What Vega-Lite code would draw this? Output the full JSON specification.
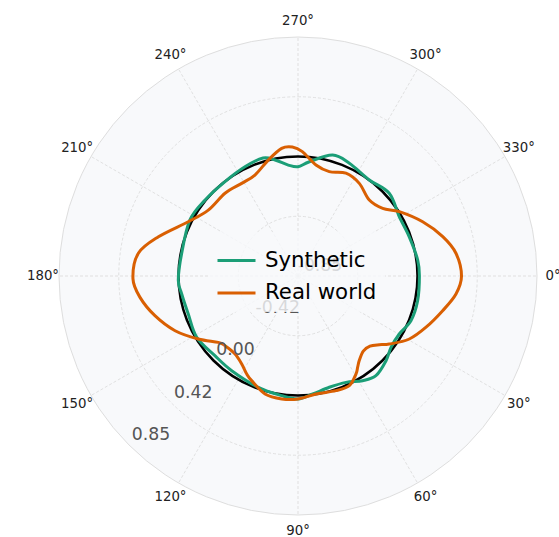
{
  "$schema": "https://vega.github.io/schema/vega-lite/v6.json",
  "width": 478,
  "height": 478,
  "autosize": {"type": "none"},
  "padding": {"left": 59, "top": 37, "right": 22, "bottom": 22},
  "background": "white",
  "config": {"view": {"stroke": null}, "font": "DejaVu Sans"},
  "datasets": {
    "disk": [{"r": 0.85, "r0": -0.85}],
    "rings": [{"r": -0.425, "r0": -0.85}, {"r": 0, "r0": -0.85}, {"r": 0.425, "r0": -0.85}],
    "reference": [{"r": 0, "r0": -0.85}],
    "spokes": [{"angle": 0}, {"angle": 30}, {"angle": 60}, {"angle": 90}, {"angle": 120}, {"angle": 150}, {"angle": 180}, {"angle": 210}, {"angle": 240}, {"angle": 270}, {"angle": 300}, {"angle": 330}],
    "anglelabels": [
      {"angle": 0, "label": "0°"}, {"angle": 30, "label": "30°"}, {"angle": 60, "label": "60°"},
      {"angle": 90, "label": "90°"}, {"angle": 120, "label": "120°"}, {"angle": 150, "label": "150°"},
      {"angle": 180, "label": "180°"}, {"angle": 210, "label": "210°"}, {"angle": 240, "label": "240°"},
      {"angle": 270, "label": "270°"}, {"angle": 300, "label": "300°"}, {"angle": 330, "label": "330°"}
    ],
    "radlabels": [
      {"angle": 135, "r": -0.85, "label": "-0.85"},
      {"angle": 135, "r": -0.425, "label": "-0.42"},
      {"angle": 135, "r": 0, "label": "0.00"},
      {"angle": 135, "r": 0.425, "label": "0.42"},
      {"angle": 135, "r": 0.85, "label": "0.85"}
    ],
    "curves": [
      {"series": "Synthetic", "angle": 0, "r": 0.0135},
      {"series": "Synthetic", "angle": 11.7, "r": 0.019},
      {"series": "Synthetic", "angle": 21.6, "r": 0.014},
      {"series": "Synthetic", "angle": 29.8, "r": -0.02},
      {"series": "Synthetic", "angle": 37.5, "r": -0.016},
      {"series": "Synthetic", "angle": 43.9, "r": 0.019},
      {"series": "Synthetic", "angle": 52, "r": 0.05},
      {"series": "Synthetic", "angle": 58.3, "r": 0.025},
      {"series": "Synthetic", "angle": 65.7, "r": -0.02},
      {"series": "Synthetic", "angle": 74.3, "r": -0.028},
      {"series": "Synthetic", "angle": 82.9, "r": -0.004},
      {"series": "Synthetic", "angle": 90, "r": 0.025},
      {"series": "Synthetic", "angle": 97.8, "r": 0.009},
      {"series": "Synthetic", "angle": 109.6, "r": -0.009},
      {"series": "Synthetic", "angle": 125, "r": -0.028},
      {"series": "Synthetic", "angle": 136.2, "r": -0.031},
      {"series": "Synthetic", "angle": 148.8, "r": -0.008},
      {"series": "Synthetic", "angle": 160.9, "r": -0.024},
      {"series": "Synthetic", "angle": 171.2, "r": -0.013},
      {"series": "Synthetic", "angle": 178, "r": 0.002},
      {"series": "Synthetic", "angle": 191, "r": -0.007},
      {"series": "Synthetic", "angle": 207.4, "r": 0.016},
      {"series": "Synthetic", "angle": 219.3, "r": 0.004},
      {"series": "Synthetic", "angle": 232.3, "r": -0.001},
      {"series": "Synthetic", "angle": 244.1, "r": 0.014},
      {"series": "Synthetic", "angle": 253.5, "r": 0.025},
      {"series": "Synthetic", "angle": 258.8, "r": -0.009},
      {"series": "Synthetic", "angle": 265, "r": -0.058},
      {"series": "Synthetic", "angle": 270, "r": -0.073},
      {"series": "Synthetic", "angle": 275.7, "r": -0.033},
      {"series": "Synthetic", "angle": 286, "r": 0.045},
      {"series": "Synthetic", "angle": 294.5, "r": 0.031},
      {"series": "Synthetic", "angle": 306.6, "r": 0.001},
      {"series": "Synthetic", "angle": 317.8, "r": 0.026},
      {"series": "Synthetic", "angle": 329.7, "r": -0.015},
      {"series": "Synthetic", "angle": 340.6, "r": -0.011},
      {"series": "Synthetic", "angle": 352.4, "r": 0.009},
      {"series": "Real world", "angle": 0, "r": 0.313},
      {"series": "Real world", "angle": 6.5, "r": 0.281},
      {"series": "Real world", "angle": 13.5, "r": 0.208},
      {"series": "Real world", "angle": 21.8, "r": 0.131},
      {"series": "Real world", "angle": 29.5, "r": 0.06},
      {"series": "Real world", "angle": 36.7, "r": -0.04},
      {"series": "Real world", "angle": 40.2, "r": -0.093},
      {"series": "Real world", "angle": 44.3, "r": -0.135},
      {"series": "Real world", "angle": 49, "r": -0.142},
      {"series": "Real world", "angle": 54.1, "r": -0.107},
      {"series": "Real world", "angle": 56.8, "r": -0.075},
      {"series": "Real world", "angle": 59.4, "r": -0.04},
      {"series": "Real world", "angle": 64.9, "r": 0.011},
      {"series": "Real world", "angle": 71.7, "r": 0.009},
      {"series": "Real world", "angle": 81.3, "r": -0.001},
      {"series": "Real world", "angle": 90, "r": 0.025},
      {"series": "Real world", "angle": 97.5, "r": 0.032},
      {"series": "Real world", "angle": 105.6, "r": 0.021},
      {"series": "Real world", "angle": 113.9, "r": -0.036},
      {"series": "Real world", "angle": 117.6, "r": -0.063},
      {"series": "Real world", "angle": 122.6, "r": -0.107},
      {"series": "Real world", "angle": 128.9, "r": -0.137},
      {"series": "Real world", "angle": 136.3, "r": -0.132},
      {"series": "Real world", "angle": 140.2, "r": -0.112},
      {"series": "Real world", "angle": 147.7, "r": -0.011},
      {"series": "Real world", "angle": 156, "r": 0.107},
      {"series": "Real world", "angle": 164.5, "r": 0.206},
      {"series": "Real world", "angle": 172.3, "r": 0.284},
      {"series": "Real world", "angle": 179, "r": 0.324},
      {"series": "Real world", "angle": 188.1, "r": 0.297},
      {"series": "Real world", "angle": 195.7, "r": 0.181},
      {"series": "Real world", "angle": 206.3, "r": 0.021},
      {"series": "Real world", "angle": 216.3, "r": -0.058},
      {"series": "Real world", "angle": 228.6, "r": -0.065},
      {"series": "Real world", "angle": 238.7, "r": -0.079},
      {"series": "Real world", "angle": 246.9, "r": -0.069},
      {"series": "Real world", "angle": 255.6, "r": 0.001},
      {"series": "Real world", "angle": 262.7, "r": 0.065},
      {"series": "Real world", "angle": 267.5, "r": 0.068},
      {"series": "Real world", "angle": 272, "r": 0.035},
      {"series": "Real world", "angle": 279.2, "r": -0.05},
      {"series": "Real world", "angle": 286.7, "r": -0.075},
      {"series": "Real world", "angle": 295, "r": -0.043},
      {"series": "Real world", "angle": 303.5, "r": -0.06},
      {"series": "Real world", "angle": 313.2, "r": -0.109},
      {"series": "Real world", "angle": 321.4, "r": -0.079},
      {"series": "Real world", "angle": 327.6, "r": 0.004},
      {"series": "Real world", "angle": 336.5, "r": 0.117},
      {"series": "Real world", "angle": 344.8, "r": 0.217},
      {"series": "Real world", "angle": 351.8, "r": 0.285}
    ]
  },
  "layer": [
    {
      "data": {"name": "disk"},
      "mark": {"type": "arc", "theta": 0, "theta2": 6.2832, "fill": "#f8f9fb", "stroke": "#dedede", "strokeWidth": 1},
      "encoding": {
        "radius": {"field": "r", "type": "quantitative", "stack": false, "scale": {"type": "linear", "domain": [-0.85, 0.85], "range": [0, 239], "zero": false, "nice": false}},
        "radius2": {"field": "r0"}
      }
    },
    {
      "data": {"name": "rings"},
      "mark": {"type": "arc", "theta": 0, "theta2": 6.2832, "filled": true, "fill": "transparent", "stroke": "#d9d9d9", "strokeWidth": 0.8, "strokeDash": [3, 2]},
      "encoding": {
        "radius": {"field": "r", "type": "quantitative", "stack": false, "scale": {"type": "linear", "domain": [-0.85, 0.85], "range": [0, 239], "zero": false, "nice": false}},
        "radius2": {"field": "r0"}
      }
    },
    {
      "data": {"name": "spokes"},
      "transform": [
        {"calculate": "0", "as": "cx"},
        {"calculate": "1.7*cos(datum.angle*PI/180)", "as": "sx"},
        {"calculate": "1.7*sin(datum.angle*PI/180)", "as": "sy"}
      ],
      "mark": {"type": "rule", "stroke": "#d9d9d9", "strokeWidth": 0.8, "strokeDash": [3, 2]},
      "encoding": {
        "x": {"field": "cx", "type": "quantitative", "scale": {"domain": [-1.7, 1.7], "nice": false, "zero": false}, "axis": null},
        "y": {"field": "cx", "type": "quantitative", "scale": {"domain": [-1.7, 1.7], "nice": false, "zero": false, "reverse": true}, "axis": null},
        "x2": {"field": "sx"},
        "y2": {"field": "sy"}
      }
    },
    {
      "data": {"name": "reference"},
      "mark": {"type": "arc", "theta": 0, "theta2": 6.2832, "filled": true, "fill": "transparent", "stroke": "black", "strokeWidth": 2.5},
      "encoding": {
        "radius": {"field": "r", "type": "quantitative", "stack": false, "scale": {"type": "linear", "domain": [-0.85, 0.85], "range": [0, 239], "zero": false, "nice": false}},
        "radius2": {"field": "r0"}
      }
    },
    {
      "data": {"name": "curves"},
      "transform": [
        {"calculate": "(datum.r+0.85)*cos(datum.angle*PI/180)", "as": "px"},
        {"calculate": "(datum.r+0.85)*sin(datum.angle*PI/180)", "as": "py"}
      ],
      "mark": {"type": "line", "interpolate": "cardinal-closed", "strokeWidth": 3},
      "encoding": {
        "x": {"field": "px", "type": "quantitative", "scale": {"domain": [-1.7, 1.7], "nice": false, "zero": false}, "axis": null},
        "y": {"field": "py", "type": "quantitative", "scale": {"domain": [-1.7, 1.7], "nice": false, "zero": false, "reverse": true}, "axis": null},
        "order": {"field": "angle", "type": "quantitative"},
        "color": {
          "field": "series", "type": "nominal",
          "scale": {"domain": ["Synthetic", "Real world"], "range": ["#1b9e77", "#d95f02"]},
          "legend": {
            "title": null, "orient": "none", "legendX": 149, "legendY": 195,
            "symbolType": "stroke", "symbolSize": 1444, "symbolStrokeWidth": 3,
            "labelFontSize": 21.3, "labelFont": "DejaVu Sans", "labelColor": "black",
            "labelOffset": 8, "rowPadding": 1.4, "padding": 8,
            "fillColor": "rgba(248,249,251,0.8)"
          }
        }
      }
    },
    {
      "data": {"name": "radlabels"},
      "mark": {"type": "text", "fontSize": 17.3, "color": "#555555", "dx": 22, "dy": -10, "align": "center", "baseline": "middle"},
      "encoding": {
        "theta": {"field": "angle", "type": "quantitative", "scale": {"type": "linear", "domain": [0, 360], "range": [1.5708, 7.854], "zero": false, "nice": false}},
        "radius": {"field": "r", "type": "quantitative", "scale": {"type": "linear", "domain": [-0.85, 0.85], "range": [0, 239], "zero": false, "nice": false}},
        "text": {"field": "label"}
      }
    },
    {
      "data": {"name": "anglelabels"},
      "transform": [{"calculate": "0.964", "as": "lr"}],
      "mark": {"type": "text", "fontSize": 13.3, "color": "#222222", "align": "center", "baseline": "middle"},
      "encoding": {
        "theta": {"field": "angle", "type": "quantitative", "scale": {"type": "linear", "domain": [0, 360], "range": [1.5708, 7.854], "zero": false, "nice": false}},
        "radius": {"field": "lr", "type": "quantitative", "scale": {"type": "linear", "domain": [-0.85, 0.85], "range": [0, 239], "zero": false, "nice": false}},
        "text": {"field": "label"}
      }
    }
  ]
}
